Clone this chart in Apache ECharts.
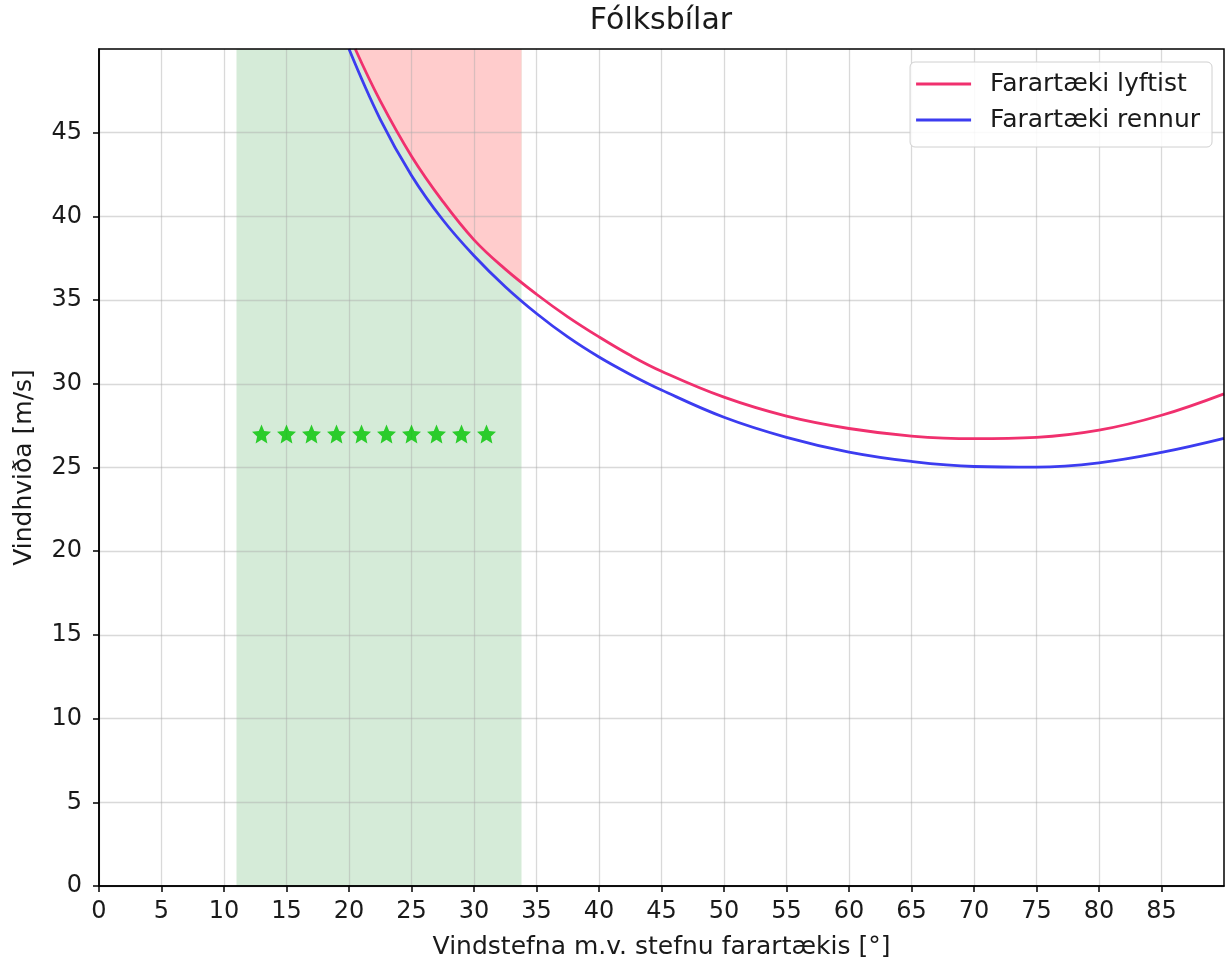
<!DOCTYPE html>
<html>
<head>
<meta charset="utf-8">
<script src="https://cdn.jsdelivr.net/npm/echarts@6/dist/echarts.min.js"></script>
<style>
  html, body { margin: 0; padding: 0; background: #fff; }
  #chart { width: 1225px; height: 969px; }
</style>
</head>
<body>
<div id="chart"></div>
<script>
// Wind direction relative to the vehicle heading [°] and critical gust speed [m/s]
const liftAngles  = [20.5, 22.5, 25, 27.5, 30, 32.5, 35, 37.5, 40, 42.5, 45, 50, 55, 60, 65, 70, 75, 80, 85, 90];
const liftSpeeds  = [50, 46.9, 43.6, 40.9, 38.6, 36.85, 35.35, 34.0, 32.8, 31.7, 30.75, 29.2, 28.07, 27.33, 26.88, 26.72, 26.8, 27.23, 28.12, 29.4];

const slideAngles = [20, 22.5, 25, 27.5, 30, 32.5, 35, 37.5, 40, 42.5, 45, 50, 55, 60, 65, 70, 75, 80, 85, 90];
const slideSpeeds = [50, 45.8, 42.45, 39.8, 37.65, 35.8, 34.2, 32.8, 31.6, 30.56, 29.63, 28.0, 26.8, 25.92, 25.36, 25.06, 25.02, 25.28, 25.9, 26.74];

// Observed gusts (star markers)
const obsAngles = [13, 15, 17, 19, 21, 23, 25, 27, 29, 31];
const obsSpeeds = [27, 27, 27, 27, 27, 27, 27, 27, 27, 27];

// Direction sector of the road section, and lift-off speed at its upper edge
const sectorStart = 11;
const sectorEnd = 33.8;
const liftAtSectorEnd = 36.0;

const xTickValues = [0, 5, 10, 15, 20, 25, 30, 35, 40, 45, 50, 55, 60, 65, 70, 75, 80, 85];
const yTickValues = [0, 5, 10, 15, 20, 25, 30, 35, 40, 45];

const LIFT_COLOR = '#f0306e';
const SLIDE_COLOR = '#3c3cf0';
const FONT = 'DejaVu Sans';
const TEXT_COLOR = '#1a1a1a';

const pairs = (xs, ys) => xs.map((x, i) => [x, ys[i]]);
const liftData = pairs(liftAngles, liftSpeeds);
const slideData = pairs(slideAngles, slideSpeeds);
const liftFillData = liftData.filter(p => p[0] < sectorEnd).concat([[sectorEnd, liftAtSectorEnd]]);

const STAR = 'path://M50,0 L63.52,31.39 L97.55,34.55 L71.87,57.11 L79.39,90.45 L50,73 L20.61,90.45 L28.13,57.11 L2.45,34.55 L36.48,31.39 Z';

const chart = echarts.init(document.getElementById('chart'), null, { renderer: 'canvas' });

const axisCommon = {
  type: 'value',
  z: 3,
  axisLine: { show: true, lineStyle: { color: '#000', width: 1.5 } },
  axisTick: { show: true, inside: false, length: 6, lineStyle: { color: '#000', width: 1.5 } },
  splitLine: { show: true, lineStyle: { color: 'rgba(170,170,170,0.45)', width: 1.3 } },
  nameTextStyle: { fontFamily: FONT, fontSize: 25, color: TEXT_COLOR }
};

chart.setOption({
  animation: false,
  backgroundColor: '#fff',
  title: {
    text: 'Fólksbílar',
    left: 661,
    top: 6,
    padding: 0,
    textAlign: 'center',
    textStyle: { fontFamily: FONT, fontSize: 30, fontWeight: 'normal', color: TEXT_COLOR }
  },
  grid: {
    left: 99, right: 1, top: 49, bottom: 83,
    show: true, z: 5,
    borderColor: '#000', borderWidth: 1.5,
    backgroundColor: 'transparent'
  },
  legend: {
    orient: 'vertical',
    right: 13,
    top: 62,
    padding: [8, 12, 13, 6],
    itemGap: 8,
    itemWidth: 55,
    itemHeight: 3,
    borderColor: '#d0d0d0',
    borderWidth: 1,
    borderRadius: 5,
    backgroundColor: 'rgba(255,255,255,0.85)',
    textStyle: { fontFamily: FONT, fontSize: 25, color: TEXT_COLOR, padding: [0, 0, 0, 14], lineHeight: 28 },
    data: [
      { name: 'Farartæki lyftist', icon: 'rect' },
      { name: 'Farartæki rennur', icon: 'rect' }
    ]
  },
  xAxis: Object.assign({}, axisCommon, {
    min: 0, max: 90, interval: 5,
    name: 'Vindstefna m.v. stefnu farartækis [°]',
    nameLocation: 'middle',
    nameGap: 49,
    axisTick: Object.assign({}, axisCommon.axisTick, { customValues: xTickValues }),
    axisLabel: { customValues: xTickValues, margin: 14, fontFamily: FONT, fontSize: 24, color: TEXT_COLOR }
  }),
  yAxis: Object.assign({}, axisCommon, {
    min: 0, max: 50, interval: 5,
    name: 'Vindhviða [m/s]',
    nameLocation: 'middle',
    nameGap: 62,
    axisTick: Object.assign({}, axisCommon.axisTick, { customValues: yTickValues }),
    axisLabel: { customValues: yTickValues, margin: 17, fontFamily: FONT, fontSize: 24, color: TEXT_COLOR }
  }),
  series: [
    {
      // shaded direction sector
      type: 'custom',
      z: 1,
      silent: true,
      data: [[sectorStart, sectorEnd]],
      renderItem: function (params, api) {
        const p0 = api.coord([api.value(0), 50]);
        const p1 = api.coord([api.value(1), 0]);
        return {
          type: 'rect',
          shape: { x: p0[0], y: p0[1], width: p1[0] - p0[0], height: p1[1] - p0[1] },
          style: { fill: '#d5ebd8' }
        };
      }
    },
    {
      // region above the lift-off curve within the sector
      type: 'line',
      z: 2,
      silent: true,
      data: liftFillData,
      smooth: 0.4,
      showSymbol: false,
      lineStyle: { width: 0, opacity: 0 },
      areaStyle: { origin: 'end', color: '#ffcccc', opacity: 1 }
    },
    {
      name: 'Farartæki lyftist',
      type: 'line',
      z: 4,
      data: liftData,
      smooth: 0.4,
      showSymbol: false,
      color: LIFT_COLOR,
      lineStyle: { color: LIFT_COLOR, width: 2.8 }
    },
    {
      name: 'Farartæki rennur',
      type: 'line',
      z: 4,
      data: slideData,
      smooth: 0.4,
      showSymbol: false,
      color: SLIDE_COLOR,
      lineStyle: { color: SLIDE_COLOR, width: 2.8 }
    },
    {
      type: 'scatter',
      z: 4,
      data: pairs(obsAngles, obsSpeeds),
      symbol: STAR,
      symbolSize: 19,
      itemStyle: { color: '#00c400' }
    }
  ]
});
</script>
</body>
</html>
